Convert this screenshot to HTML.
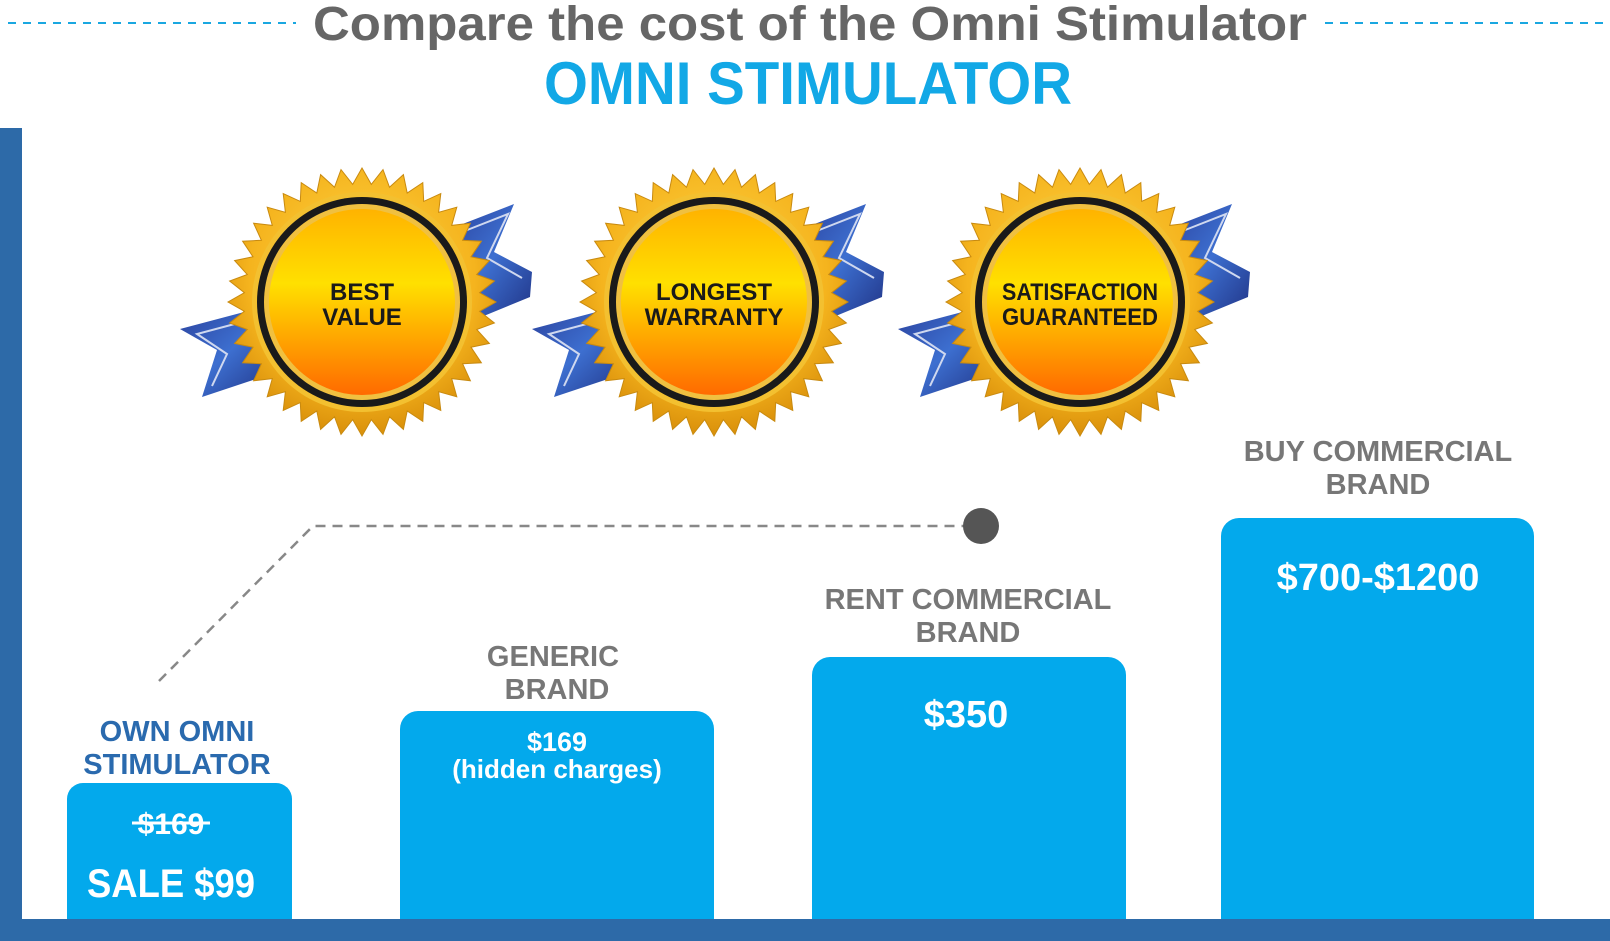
<!DOCTYPE html>
<html><head><meta charset="utf-8"><style>
html,body{margin:0;padding:0;background:#fff;}
svg{display:block;}
text{font-family:"Liberation Sans",sans-serif;font-weight:bold;}
</style></head><body>
<svg width="1610" height="941" viewBox="0 0 1610 941" xmlns="http://www.w3.org/2000/svg">
<defs>
<radialGradient id="gold" cx="50%" cy="40%" r="60%">
<stop offset="0" stop-color="#ffd84a"/><stop offset="0.7" stop-color="#f5b41e"/><stop offset="1" stop-color="#d98f0a"/></radialGradient>
<linearGradient id="inner" x1="0" y1="0" x2="0" y2="1">
<stop offset="0" stop-color="#ffb300"/><stop offset="0.4" stop-color="#ffe000"/><stop offset="1" stop-color="#ff6a00"/></linearGradient>
<linearGradient id="rib" x1="0" y1="0" x2="1" y2="1">
<stop offset="0" stop-color="#2a3f9a"/><stop offset="0.5" stop-color="#3d6fd0"/><stop offset="1" stop-color="#1e2f80"/></linearGradient>
<g id="badge">
<polygon fill="url(#rib)" points="80,-70 152,-98 132,-50 170,-30 168,-5 95,25"/>
<polyline fill="none" stroke="#cfd8ef" stroke-width="2" points="95,-68 146,-88 125,-44 160,-24"/>
<polygon fill="url(#rib)" points="-80,0 -182,27 -145,48 -160,95 -85,70"/>
<polyline fill="none" stroke="#cfd8ef" stroke-width="2" points="-90,12 -165,32 -135,52 -150,84"/>
<polygon id="star" fill="url(#gold)" stroke="#c88a10" stroke-width="1" points=""/>
<circle r="110" fill="#f3c030"/>
<circle r="105" fill="#1a1a1a"/>
<circle r="98" fill="#f0c040"/>
<circle r="93" fill="url(#inner)"/>
</g>
</defs>
<line x1="8" y1="23" x2="296" y2="23" stroke="#1aa7e0" stroke-width="2" stroke-dasharray="8,7"/>
<line x1="1325" y1="23" x2="1605" y2="23" stroke="#1aa7e0" stroke-width="2" stroke-dasharray="8,7"/>
<text x="810" y="40" text-anchor="middle" font-size="48" fill="#666" textLength="994" lengthAdjust="spacingAndGlyphs">Compare the cost of the Omni Stimulator</text>
<text x="808" y="104" text-anchor="middle" font-size="60" fill="#12a8e6" textLength="528" lengthAdjust="spacingAndGlyphs">OMNI STIMULATOR</text>
<rect x="0" y="128" width="22" height="813" fill="#2d6aa8"/>
<rect x="0" y="919" width="1610" height="22" fill="#2d6aa8"/>
<g id="b1" transform="translate(362,302)"></g>
<polyline points="159,681 313,526 965,526" fill="none" stroke="#888" stroke-width="2.5" stroke-dasharray="10,7"/>
<circle cx="981" cy="526" r="18" fill="#555"/>
<rect x="67" y="783" width="225" height="160" rx="16" fill="#03a9ec"/>
<rect x="400" y="711" width="314" height="230" rx="18" fill="#03a9ec"/>
<rect x="812" y="657" width="314" height="290" rx="18" fill="#03a9ec"/>
<rect x="1221" y="518" width="313" height="430" rx="18" fill="#03a9ec"/>
<rect x="22" y="919" width="1588" height="22" fill="#2d6aa8"/>
<g font-size="29" fill="#777" text-anchor="middle">
<text x="177" y="741" fill="#2a6aae">OWN OMNI</text>
<text x="177" y="774" fill="#2a6aae">STIMULATOR</text>
<text x="553" y="666">GENERIC</text>
<text x="557" y="699">BRAND</text>
<text x="968" y="609">RENT COMMERCIAL</text>
<text x="968" y="642">BRAND</text>
<text x="1378" y="461">BUY COMMERCIAL</text>
<text x="1378" y="494">BRAND</text>
</g>
<g fill="#fff" text-anchor="middle">
<text x="171" y="834" font-size="30">$169</text>
<line x1="132" y1="823" x2="210" y2="823" stroke="#fff" stroke-width="3"/>
<text x="171" y="897" font-size="40" textLength="168" lengthAdjust="spacingAndGlyphs">SALE $99</text>
<text x="557" y="751" font-size="27">$169</text>
<text x="557" y="778" font-size="26">(hidden charges)</text>
<text x="966" y="727" font-size="38">$350</text>
<text x="1378" y="590" font-size="38">$700-$1200</text>
</g>
</svg>
<script>
(function(){
var ns="http://www.w3.org/2000/svg";
var pts=[];var n=40;
for(var i=0;i<2*n;i++){var r=i%2?118:134;var a=Math.PI*i/n-Math.PI/2;pts.push((r*Math.cos(a)).toFixed(1)+","+(r*Math.sin(a)).toFixed(1));}
document.getElementById("star").setAttribute("points",pts.join(" "));
var svg=document.querySelector("svg");
var centers=[[362,302,["BEST","VALUE"]],[714,302,["LONGEST","WARRANTY"]],[1080,302,["SATISFACTION","GUARANTEED"]]];
var old=document.getElementById("b1");old.parentNode.removeChild(old);
var dash=document.querySelector("polyline[stroke-dasharray]");
centers.forEach(function(c){
var u=document.createElementNS(ns,"use");u.setAttribute("href","#badge");
u.setAttribute("transform","translate("+c[0]+","+c[1]+")");svg.insertBefore(u,dash);
c[2].forEach(function(t,k){var tx=document.createElementNS(ns,"text");tx.setAttribute("x",c[0]);tx.setAttribute("y",c[1]-2+k*25);
tx.setAttribute("text-anchor","middle");tx.setAttribute("font-size","24");tx.setAttribute("fill","#1a1a1a");
if(t.length>9){tx.setAttribute("textLength","156");tx.setAttribute("lengthAdjust","spacingAndGlyphs");}
tx.textContent=t;svg.insertBefore(tx,dash);});
});
})();
</script>
</body></html>
